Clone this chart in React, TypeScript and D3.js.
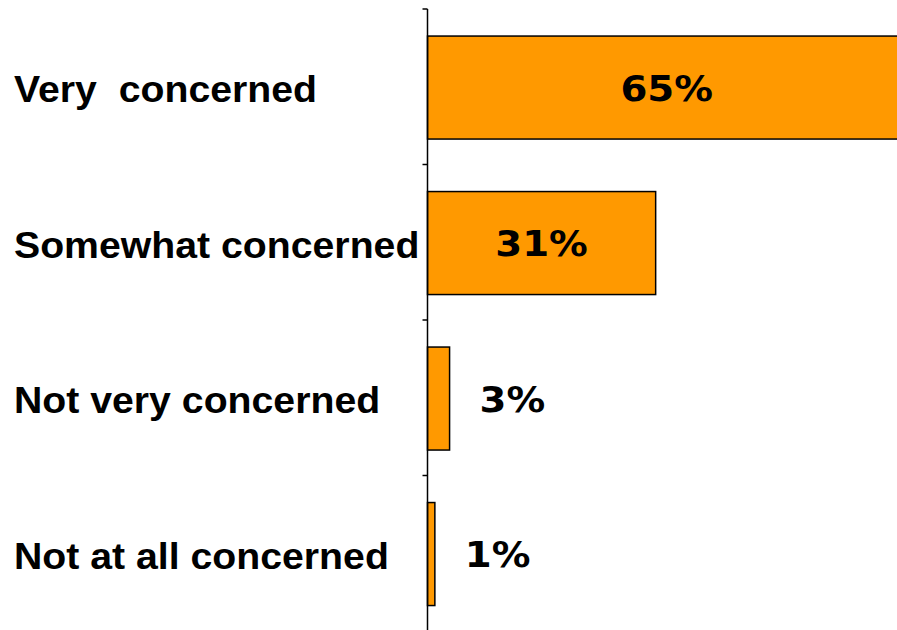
import React from "react";
import * as d3 from "d3";

const categories = ["Very  concerned", "Somewhat concerned", "Not very concerned", "Not at all concerned"];
const values = [65, 31, 3, 1];
const valueLabels = ["65%", "31%", "3%", "1%"];

const W = 897;
const H = 630;
const axisX = 427.5;
const stretch = 1.075;

export default function App() {
  const x = d3.scaleLinear().domain([0, 100]).range([axisX, axisX + 736]);
  const y = d3.scaleBand<string>().domain(categories).range([9, 632.6]).paddingInner(0.3376).paddingOuter(0.174);
  const tickStep = (631 - 9) / categories.length;
  const tickYs = d3.range(categories.length + 1).map((i) => 9 + i * tickStep);

  return (
    <svg width={W} height={H} style={{ position: "absolute", left: 0, top: 0, overflow: "hidden", background: "#fff" }}>
      {categories.map((c, i) => {
        const y0 = y(c)!;
        const bw = x(values[i]) - x(0);
        const cy = y0 + y.bandwidth() / 2;
        const inside = values[i] > 10;
        const vx = inside ? x(0) + bw / 2 : x(values[i]) + 30;
        return (
          <g key={c}>
            <rect x={x(0)} y={y0} width={bw} height={y.bandwidth()} fill="#FF9900" stroke="#000" strokeWidth={1.5} />
            <text
              transform={`translate(${vx},${cy + 13.1}) scale(${stretch},1)`}
              textAnchor={inside ? "middle" : "start"}
              fontFamily="'DejaVu Sans', Verdana, sans-serif"
              fontWeight="bold"
              fontSize={36}
              fill="#000"
            >
              {valueLabels[i]}
            </text>
            <text
              transform={`translate(14,${cy + 14.5}) scale(${stretch},1)`}
              fontFamily="'Liberation Sans', Arial, sans-serif"
              fontWeight="bold"
              fontSize={36.5}
              fill="#000"
              style={{ whiteSpace: "pre" }}
            >
              {c}
            </text>
          </g>
        );
      })}
      <line x1={axisX} x2={axisX} y1={9} y2={631} stroke="#000" strokeWidth={1.5} />
      {tickYs.map((t, i) => (
        <line key={i} x1={axisX - 5} x2={axisX} y1={t} y2={t} stroke="#000" strokeWidth={1.5} />
      ))}
    </svg>
  );
}
